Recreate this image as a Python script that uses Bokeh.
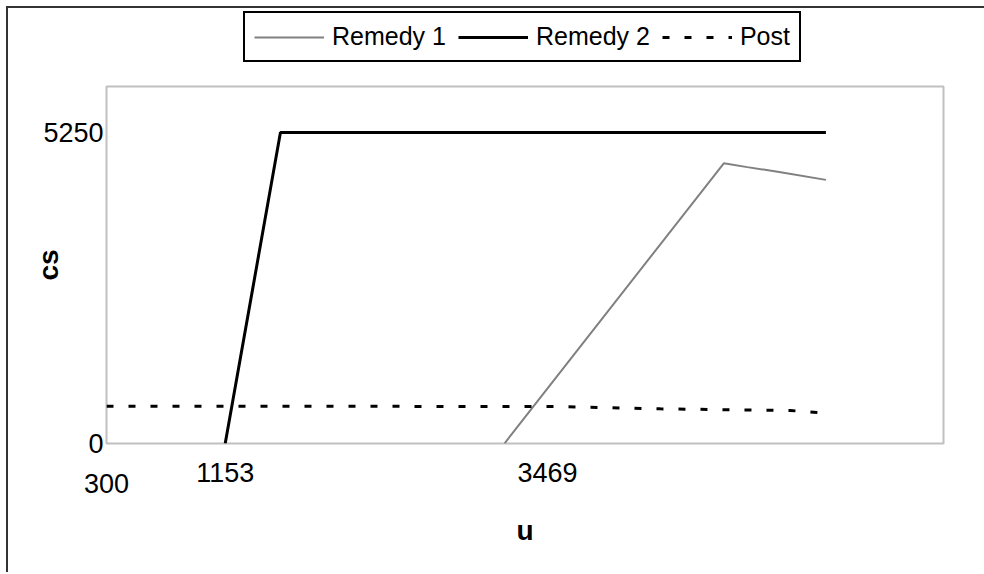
from bokeh.plotting import figure
from bokeh.layouts import column
from bokeh.models import Range1d, FixedTicker, Legend, LegendItem, LinearAxis
from bokeh.embed import file_html
from bokeh.resources import INLINE

# ---- data ----
series_names = ["Remedy 1", "Remedy 2", "Post"]
remedy1_u = [3160, 4736, 4905, 5145, 5470]
remedy1_cs = [0, 4730, 4665, 4580, 4450]
remedy2_u = [1153, 1550, 5470]
remedy2_cs = [0, 5250, 5250]
post_u = [300, 3540, 4280, 5215, 5470]
post_cs = [630, 625, 585, 557, 512]
x_tick_values = [300, 1153, 3469]
x_tick_labels = ["300", "1153", "3469"]
y_tick_values = [0, 5250]
y_tick_labels = ["0", "5250"]
x_title = "u"
y_title = "cs"

# ---- layout / style ----
FONT = "Liberation Sans"
W = 976
H_LEG, H_MAIN = 60, 504
x_lo, x_hi = 300, 6315
y_lo, y_hi = 0, 6026
styles = [dict(line_color="#808080", line_width=2),
          dict(line_color="black", line_width=3),
          dict(line_color="black", line_width=3, line_dash="7 15")]
series = [(remedy1_u, remedy1_cs), (remedy2_u, remedy2_cs), (post_u, post_cs)]

# main chart
p = figure(width=W, height=H_MAIN, output_backend="svg", toolbar_location=None,
           x_range=Range1d(x_lo, x_hi), y_range=Range1d(y_lo, y_hi),
           x_axis_location=None,
           min_border_left=98, min_border_right=41,
           min_border_top=18, min_border_bottom=129)
p.background_fill_color = "white"
p.border_fill_color = "white"
p.outline_line_color = "#c0c0c0"
p.outline_line_width = 2
p.xgrid.visible = False
p.ygrid.visible = False


def plain_axis(ax, size="27px"):
    ax.axis_line_color = None
    ax.major_tick_line_color = None
    ax.minor_tick_line_color = None
    ax.major_tick_out = 0
    ax.minor_tick_out = 0
    ax.major_label_text_font = FONT
    ax.major_label_text_font_size = size
    ax.major_label_text_color = "black"
    ax.axis_label_text_font = FONT
    ax.axis_label_text_font_size = "28px"
    ax.axis_label_text_font_style = "bold"
    ax.axis_label_text_color = "black"


ya = p.yaxis[0]
plain_axis(ya)
ya.ticker = FixedTicker(ticks=y_tick_values)
ya.major_label_overrides = {v: t for v, t in zip(y_tick_values, y_tick_labels)}
ya.major_label_standoff = 3
ya.axis_label = y_title
ya.axis_label_standoff = -24

# x axis: first tick label sits lower than the others, as in the reference
xa1 = LinearAxis(ticker=FixedTicker(ticks=x_tick_values[1:]),
                 major_label_overrides={v: t for v, t in zip(x_tick_values[1:], x_tick_labels[1:])})
plain_axis(xa1)
xa1.major_label_standoff = 19
p.add_layout(xa1, "below")

xa2 = LinearAxis(ticker=FixedTicker(ticks=x_tick_values[:1]),
                 major_label_overrides={x_tick_values[0]: x_tick_labels[0]})
plain_axis(xa2)
xa2.major_label_standoff = -11
xa2.axis_label = x_title
xa2.axis_label_standoff = 19
p.add_layout(xa2, "below")

for (u, cs), st in zip(series, styles):
    p.line(u, cs, **st)

# legend strip above the chart (its series lie outside this strip's view; only the key shows)
pl = figure(width=W, height=H_LEG, output_backend="svg", toolbar_location=None,
            x_range=Range1d(0, 1), y_range=Range1d(-2, -1),
            x_axis_location=None, y_axis_location=None,
            min_border_left=0, min_border_right=0, min_border_top=0, min_border_bottom=0)
pl.outline_line_color = None
pl.background_fill_color = "white"
pl.border_fill_color = "white"
pl.xgrid.visible = False
pl.ygrid.visible = False
leg_renderers = [pl.line(u, cs, **st) for (u, cs), st in zip(series, styles)]

legend = Legend(items=[LegendItem(label=n, renderers=[r]) for n, r in zip(series_names, leg_renderers)],
                orientation="horizontal", location=(137, 6), margin=0,
                padding=9, spacing=12, glyph_width=70, glyph_height=20,
                label_standoff=8, label_text_font=FONT, label_text_font_size="25px",
                label_text_color="black",
                border_line_color="black", border_line_width=2, border_line_alpha=1,
                background_fill_color="white", background_fill_alpha=1)
pl.add_layout(legend, "center")

layout = column(pl, p, spacing=0)
layout.styles = {"margin-left": "6px", "margin-top": "6px",
                 "border-left": "2px solid #333333", "border-top": "2px solid #333333"}

open("out.html", "w").write(file_html(layout, INLINE))
